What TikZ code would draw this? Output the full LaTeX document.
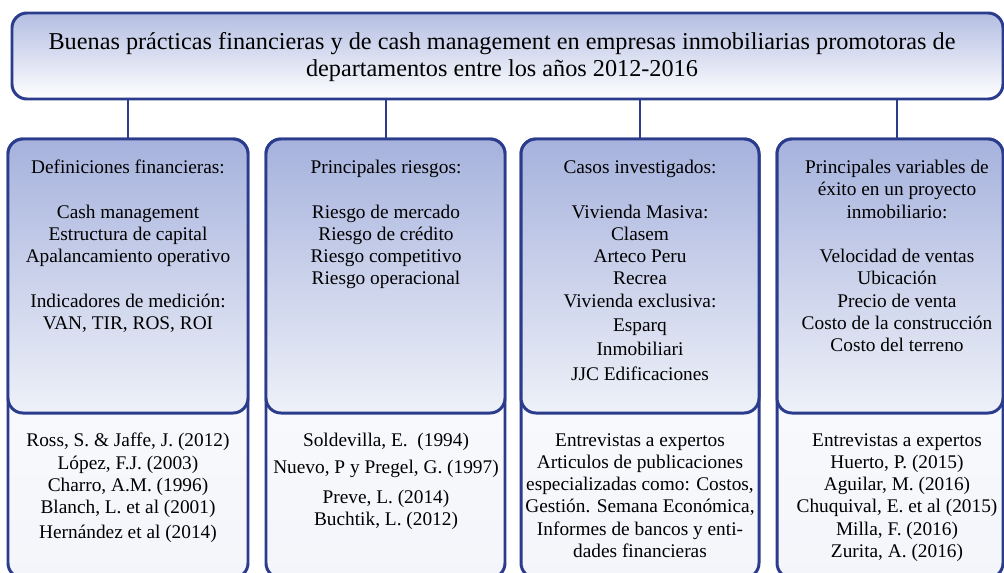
\documentclass[tikz,border=0pt]{standalone}
\usepackage{fontspec}
\setmainfont{Liberation Serif}
\usetikzlibrary{fit}
\definecolor{navy}{HTML}{2B3C8C}
\definecolor{paleblue}{HTML}{A6B2DD}
\definecolor{mist}{HTML}{EEF1F8}
\tikzset{
  frame/.style={draw=navy, line width=1.7pt, rounded corners=8.5pt, inner sep=0pt},
  titlebox/.style={frame, top color=paleblue!85, bottom color=white},
  colbox/.style={frame, top color=white, bottom color=mist!70},
  headbox/.style={frame, top color=paleblue, bottom color=mist},
  txt/.style={align=center, inner sep=0pt, anchor=north, font=\fontsize{11}{12.65}\selectfont},
  link/.style={draw=navy, line width=1.5pt}
}
\begin{document}
\begin{tikzpicture}[x=0.02cm, y=-0.02cm]
  \useasboundingbox (0,0) rectangle (1004,572);
  % title
  \node[titlebox, fit={(12,13) (1003,99)}] (title) {};
  \node[align=center, inner sep=0pt, font=\fontsize{13.8}{15.3}\selectfont] (titletext) at (502,57)
    {Buenas prácticas financieras y de cash management en empresas inmobiliarias promotoras de\\
     departamentos entre los años 2012-2016};
  % columns
  \node[colbox, fit={(8,139) (248,578)}] (c1) {};
  \node[colbox, fit={(266,139) (505,578)}] (c2) {};
  \node[colbox, fit={(521,139) (759,578)}] (c3) {};
  \node[colbox, fit={(777,139) (1003,578)}] (c4) {};
  \node[headbox, fit={(8,139) (248,413)}] (b1) {};
  \node[headbox, fit={(266,139) (505,413)}] (b2) {};
  \node[headbox, fit={(521,139) (759,413)}] (b3) {};
  \node[headbox, fit={(777,139) (1003,413)}] (b4) {};
  % headings
  \node[txt] (h1) at (128,160) {Definiciones financieras:\\[12.65pt]
    Cash management\\ Estructura de capital\\ Apalancamiento operativo\\[12.65pt]
    Indicadores de medición:\\ VAN, TIR, ROS, ROI};
  \node[txt] (h2) at (386,160) {Principales riesgos:\\[12.65pt]
    Riesgo de mercado\\ Riesgo de crédito\\ Riesgo competitivo\\ Riesgo operacional};
  \node[txt] (h3) at (640,160) {Casos investigados:\\[12.65pt]
    Vivienda Masiva:\\ Clasem\\ Arteco Peru\\ Recrea\\ Vivienda exclusiva:\\[1.2pt]
    Esparq\\[1.2pt] Inmobiliari\\[1.2pt] JJC Edificaciones};
  \node[txt] (h4) at (897,160) {Principales variables de\\ éxito en un proyecto\\ inmobiliario:\\[12.65pt]
    Velocidad de ventas\\ Ubicación\\ Precio de venta\\ Costo de la construcción\\ Costo del terreno};
  % sources
  \node[txt] (s1) at (128,433) {Ross, S. \& Jaffe, J. (2012)\\ López, F.J. (2003)\\
    Charro, A.M. (1996)\\ Blanch, L. et al (2001)\\[1.5pt] Hernández et al (2014)};
  \node[txt] (s2) at (386,433) {Soldevilla, E.~ (1994)\\[2.7pt] Nuevo, P y Pregel, G. (1997)\\[4.4pt]
    Preve, L. (2014)\\ Buchtik, L. (2012)};
  \node[txt] (s3) at (640,433) {Entrevistas a expertos\\ Articulos de publicaciones\\
    especializadas como: Costos,\\ Gestión. Semana Económica,\\ Informes de bancos y enti-\\
    dades financieras};
  \node[txt] (s4) at (897,433) {Entrevistas a expertos\\ Huerto, P. (2015)\\ Aguilar, M. (2016)\\
    Chuquival, E. et al (2015)\\ Milla, F. (2016)\\ Zurita, A. (2016)};
  % connectors
  \draw[link] (title.south -| h1.north) -- (c1.north -| h1.north);
  \draw[link] (title.south -| h2.north) -- (c2.north -| h2.north);
  \draw[link] (title.south -| h3.north) -- (c3.north -| h3.north);
  \draw[link] (title.south -| h4.north) -- (c4.north -| h4.north);
\end{tikzpicture}
\end{document}
